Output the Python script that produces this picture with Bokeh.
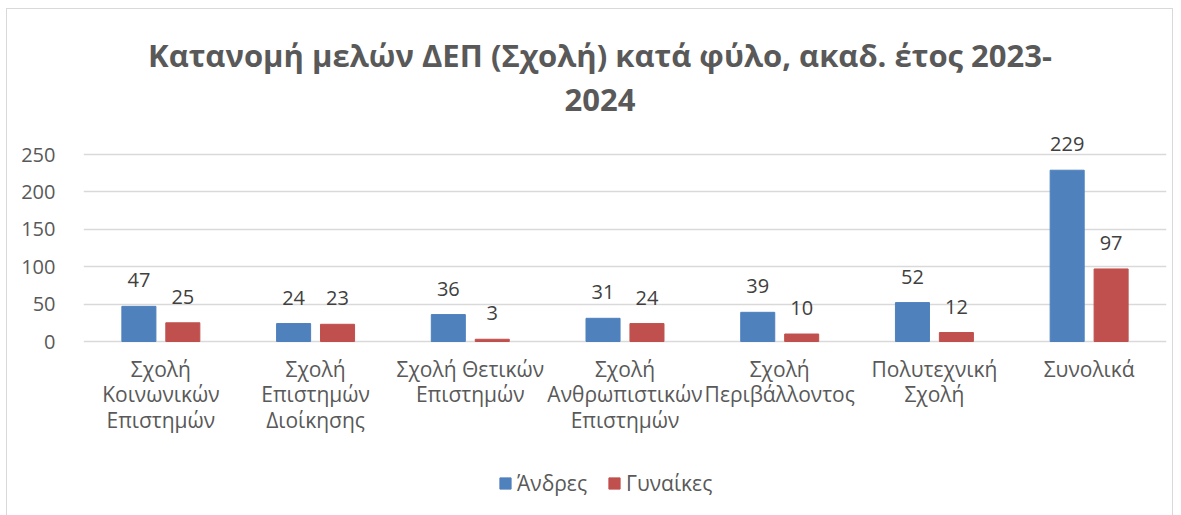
from bokeh.plotting import figure
from bokeh.models import ColumnDataSource, FactorRange, Legend, LegendItem, Range1d
from bokeh.transform import dodge
from bokeh.core.properties import value
from bokeh.embed import file_html
from bokeh.resources import INLINE

categories = ["Σχολή Κοινωνικών Επιστημών", "Σχολή Επιστημών Διοίκησης", "Σχολή Θετικών Επιστημών",
              "Σχολή Ανθρωπιστικών Επιστημών", "Σχολή Περιβάλλοντος", "Πολυτεχνική Σχολή", "Συνολικά"]
cat_labels = ["Σχολή\nΚοινωνικών\nΕπιστημών", "Σχολή\nΕπιστημών\nΔιοίκησης", "Σχολή Θετικών\nΕπιστημών",
              "Σχολή\nΑνθρωπιστικών\nΕπιστημών", "Σχολή\nΠεριβάλλοντος", "Πολυτεχνική\nΣχολή", "Συνολικά"]
men = [47, 24, 36, 31, 39, 52, 229]
women = [25, 23, 3, 24, 10, 12, 97]
series_names = ["Άνδρες", "Γυναίκες"]
y_ticks = [0, 50, 100, 150, 200, 250]
title_lines = ["Κατανομή μελών ΔΕΠ (Σχολή) κατά φύλο, ακαδ. έτος 2023-", "2024"]

FONT = "Open Sans"
TXT = "#595959"
BLUE = "#4F81BD"
RED = "#C0504D"

# layout (pixels within the figure)
W, H = 1165, 506
LEFT, RIGHT = 76, 6
Y_TOP_PX, Y_ZERO_PX = 145, 332      # pixel rows of the 250 and 0 gridlines
ymax = max(y_ticks)
ppu = (Y_ZERO_PX - Y_TOP_PX) / ymax
y_hi = ymax + Y_TOP_PX / ppu
y_lo = -(H - Y_ZERO_PX) / ppu

src = ColumnDataSource(dict(cat=categories, men=men, women=women,
                            men_s=[str(v) for v in men], women_s=[str(v) for v in women]))

p = figure(width=W, height=H, x_range=FactorRange(*categories), y_range=Range1d(y_lo, y_hi),
           output_backend="svg", toolbar_location=None,
           min_border_left=LEFT, min_border_right=RIGHT, min_border_top=0, min_border_bottom=0)

r1 = p.vbar(x=dodge("cat", -0.142, range=p.x_range), top="men", width=0.22, source=src,
            fill_color=BLUE, line_color=BLUE)
r2 = p.vbar(x=dodge("cat", 0.142, range=p.x_range), top="women", width=0.22, source=src,
            fill_color=RED, line_color=RED)

for col, off in (("men", -0.142), ("women", 0.142)):
    p.text(x=dodge("cat", off, range=p.x_range), y=col, text=col + "_s", source=src,
           text_align="center", text_baseline="alphabetic", y_offset=-26,
           text_font=value(FONT), text_font_size="20px", text_color="#404040")

# category labels (multi-line) below the zero line
lab_x, lab_t, lab_off = [], [], []
for c, lab in zip(categories, cat_labels):
    for i, line in enumerate(lab.split("\n")):
        lab_x.append(c)
        lab_t.append(line)
        lab_off.append(27 + 25.5 * i)
p.text(x=lab_x, y=[0] * len(lab_x), text=lab_t, y_offset=lab_off,
       text_align="center", text_baseline="alphabetic",
       text_font=value(FONT), text_font_size="21px", text_color=TXT)

# title
p.text(x=[len(categories) / 2] * 2, y=[ymax] * 2, text=title_lines, x_offset=-25, y_offset=[-100, -55],
       text_align="center", text_baseline="alphabetic",
       text_font=value(FONT), text_font_style="bold", text_font_size="31px", text_color=TXT)

p.outline_line_color = None
p.xgrid.grid_line_color = None
p.ygrid.grid_line_color = "#d9d9d9"
p.ygrid.grid_line_width = 1.5
p.ygrid.ticker = y_ticks
p.yaxis.ticker = y_ticks
p.yaxis.axis_line_color = None
p.yaxis.major_tick_line_color = None
p.yaxis.minor_tick_line_color = None
p.yaxis.major_label_standoff = 22
p.yaxis.major_label_text_font = FONT
p.yaxis.major_label_text_font_size = "20px"
p.yaxis.major_label_text_color = TXT
p.xaxis.visible = False

legend = Legend(items=[LegendItem(label=series_names[0], renderers=[r1]),
                       LegendItem(label=series_names[1], renderers=[r2])],
                orientation="horizontal", location=(415, 18),
                label_text_font=FONT, label_text_font_size="21px", label_text_color=TXT,
                glyph_width=14, glyph_height=14, spacing=20, label_standoff=5,
                border_line_color=None, background_fill_alpha=0, margin=0, padding=0)
p.add_layout(legend, "center")

p.styles = {"margin-left": "7px", "margin-top": "9px", "outline": "1px solid #d9d9d9"}

open("out.html", "w").write(file_html(p, INLINE))
